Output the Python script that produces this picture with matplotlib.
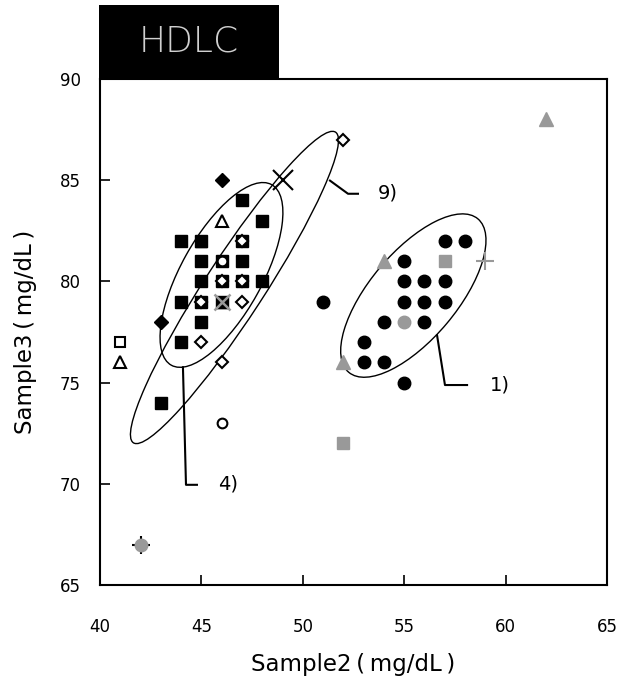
import matplotlib
matplotlib.use("Agg")
import matplotlib.pyplot as plt
from matplotlib.patches import Ellipse, Rectangle

plt.rcParams['font.family'] = ['DejaVu Sans', 'Noto Sans CJK JP']

# black filled circles
bc_x = [51, 57, 58, 55, 55, 56, 57, 55, 56, 57, 54, 56, 53, 53, 54, 55]
bc_y = [79, 82, 82, 81, 80, 80, 80, 79, 79, 79, 78, 78, 77, 76, 76, 75]

# black filled squares
bs_x = [47, 48, 44, 45, 47, 45, 46, 47, 45, 46, 47, 48, 44, 45, 46, 45, 44, 43]
bs_y = [84, 83, 82, 82, 82, 81, 81, 81, 80, 80, 80, 80, 79, 79, 79, 78, 77, 74]

# black filled triangles (partly hidden)
bt_x = [45, 46]
bt_y = [82, 79]

# black filled diamonds
bd_x = [46, 43]
bd_y = [85, 78]

# open diamonds
od_x = [47, 46, 47, 45, 47, 45, 46, 52]
od_y = [82, 80, 80, 79, 79, 77, 76, 87]

# open circles / squares / triangles
oc_x = [46, 46]
oc_y = [81, 73]
os_x = [41]
os_y = [77]
ot_x = [46, 41]
ot_y = [83, 76]

# gray markers
gc_x = [55, 42]
gc_y = [78, 67]
gs_x = [57, 52]
gs_y = [81, 72]
gt_x = [54, 52, 62]
gt_y = [81, 76, 88]
gp_x = [59]
gp_y = [81]
gx_x = [46]
gx_y = [79]

# crosses
bx_x = [49]
bx_y = [85]
bp_x = [42]
bp_y = [67]

x_ticks = [40, 45, 50, 55, 60, 65]
y_ticks = [65, 70, 75, 80, 85, 90]

GRAY = '#999999'

fig = plt.figure(figsize=(6.2, 6.81), dpi=100)
ax = fig.add_axes([100 / 620, 96 / 681, 507 / 620, 506 / 681])

# confidence ellipses: (center, major, minor, angle)
ellipses = [
    ((46.63, 79.70), 18.3, 2.9, 57),
    ((45.99, 80.32), 10.2, 4.0, 61),
    ((55.45, 79.30), 9.9, 4.3, 50),
]
for c, w, h, ang in ellipses:
    ax.add_patch(Ellipse(c, w, h, angle=ang, fill=False, edgecolor='black',
                         linewidth=1.0, zorder=1))

kw = dict(linestyle='none', zorder=3)
ax.plot(bp_x, bp_y, marker='+', ms=13, mec='black', mew=1.5, zorder=2,
        linestyle='none')
ax.plot(bs_x, bs_y, marker='s', ms=9, color='black', mec='black', **kw)
ax.plot(bt_x, bt_y, marker='^', ms=9, color='black', mec='black', **kw)
ax.plot(bd_x, bd_y, marker='D', ms=7.5, color='black', mec='black', **kw)
ax.plot(bc_x, bc_y, marker='o', ms=9, color='black', mec='black', **kw)

ax.plot(od_x, od_y, marker='D', ms=6.5, mfc='white', mec='black', mew=1.5, **kw)
ax.plot(oc_x, oc_y, marker='o', ms=7, mfc='white', mec='black', mew=1.5, **kw)
ax.plot(os_x, os_y, marker='s', ms=7, mfc='white', mec='black', mew=1.5, **kw)
ax.plot(ot_x, ot_y, marker='^', ms=8, mfc='white', mec='black', mew=1.5, **kw)

ax.plot(gc_x, gc_y, marker='o', ms=9, color=GRAY, mec=GRAY, **kw)
ax.plot(gs_x, gs_y, marker='s', ms=8.5, color=GRAY, mec=GRAY, **kw)
ax.plot(gt_x, gt_y, marker='^', ms=10, color=GRAY, mec=GRAY, **kw)
ax.plot(gp_x, gp_y, marker='+', ms=13, mec=GRAY, mew=1.5, **kw)
ax.plot(gx_x, gx_y, marker='x', ms=11, mec=GRAY, mew=1.8, **kw)
ax.plot(bx_x, bx_y, marker='x', ms=14, mec='black', mew=1.5, **kw)

# leader lines to the group labels
leaders = [
    ([51.34, 52.23, 52.72], [84.98, 84.33, 84.33], (53.7, 84.35), '9)'),
    ([56.62, 57.01, 58.10], [77.34, 74.88, 74.88], (59.2, 74.90), '1)'),
    ([44.09, 44.24, 44.78], [75.76, 69.95, 69.95], (45.8, 70.00), '4)'),
]
for lx, ly, (tx, ty), lab in leaders:
    ax.plot(lx, ly, color='black', linewidth=1.5, zorder=2)
    ax.text(tx, ty, lab, fontsize=14, ha='left', va='center')

ax.set_xlim(40, 65)
ax.set_ylim(65, 90)
ax.set_xticks(x_ticks)
ax.set_yticks(y_ticks)
ax.tick_params(direction='in', length=7, width=1.2, labelsize=12)
ax.tick_params(axis='x', pad=24)
ax.tick_params(axis='y', pad=14)
for s in ax.spines.values():
    s.set_linewidth(1.5)

ax.set_xlabel('Sample2\u2009(\u2009mg/dL\u2009)', fontsize=16.5, labelpad=12)
ax.set_ylabel('Sample3\u2009(\u2009mg/dL\u2009)', fontsize=16.5, labelpad=16)

# title box
fig.patches.append(Rectangle((99 / 620, 602 / 681), 180 / 620, 74 / 681,
                             transform=fig.transFigure, facecolor='black',
                             edgecolor='none', zorder=5))
fig.text(189 / 620, 639 / 681, 'HDLC', color='#d0d0d0', fontsize=26,
         ha='center', va='center', zorder=6, fontweight='light')

fig.savefig('out.png', dpi=100)
